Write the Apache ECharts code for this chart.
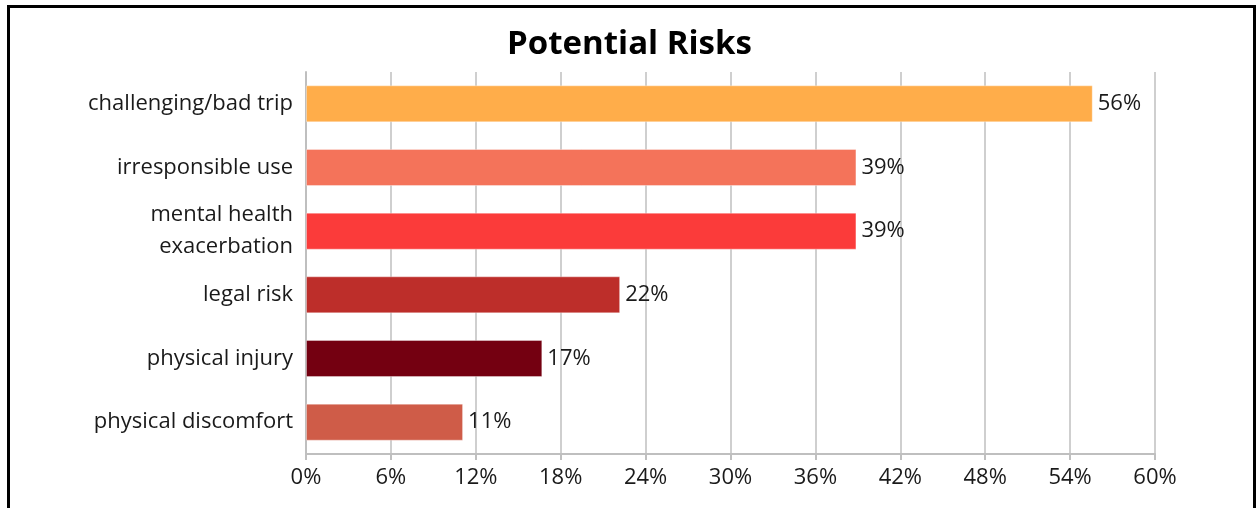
<!DOCTYPE html>
<html>
<head>
<meta charset="utf-8">
<script src="https://cdn.jsdelivr.net/npm/echarts@6/dist/echarts.min.js"></script>
<style>
html,body{margin:0;padding:0;background:#fff;}
#wrap{position:relative;width:1259px;height:508px;overflow:hidden;}
#chart{position:absolute;left:0;top:0;width:1259px;height:508px;}
#frame{position:absolute;left:7px;top:5px;width:1243px;height:530px;border:3px solid #000;pointer-events:none;}
</style>
</head>
<body>
<div id="wrap"><div id="chart"></div><div id="frame"></div></div>
<script>
const titleText = 'Potential Risks';
const categories = ['challenging/bad trip','irresponsible use','mental health\nexacerbation','legal risk','physical injury','physical discomfort'];
const values = [55.6, 38.9, 38.9, 22.2, 16.7, 11.1];
const colors = ['#FFAD4A','#F4735A','#FB3B3A','#BD2E2A','#740011','#CF5C48'];
const xTicks = [0, 6, 12, 18, 24, 30, 36, 42, 48, 54, 60];

const font = '"Open Sans","Noto Sans",sans-serif';
const chart = echarts.init(document.getElementById('chart'));
chart.setOption({
  animation: false,
  title: {
    text: titleText, left: 'center', top: 23,
    textStyle: {fontFamily: font, fontWeight: 'bold', fontSize: 33, color: '#000'}
  },
  grid: {left: 306, right: 104, top: 72, bottom: 54, containLabel: false},
  xAxis: {
    type: 'value', min: xTicks[0], max: xTicks[xTicks.length-1], interval: 6,
    axisLine: {show: true, lineStyle: {color: '#bfbfbf', width: 2}},
    axisTick: {show: true, length: 6, lineStyle: {color: '#bfbfbf', width: 2}},
    splitLine: {show: true, lineStyle: {color: '#cfcfcf', width: 2}},
    axisLabel: {formatter: '{value}%', fontFamily: font, fontSize: 22, color: '#1a1a1a', margin: 13}
  },
  yAxis: {
    type: 'category', data: categories, inverse: true,
    axisLine: {show: true, lineStyle: {color: '#bfbfbf', width: 2}},
    axisTick: {show: false},
    axisLabel: {fontFamily: font, fontSize: 22, color: '#1a1a1a', margin: 13, lineHeight: 32, align: 'right'}
  },
  series: [{
    type: 'bar',
    data: values.map((v, i) => ({value: v, itemStyle: {color: colors[i]}})),
    barWidth: 37,
    itemStyle: {borderColor: 'rgba(255,255,255,0.35)', borderWidth: 1},
    label: {
      show: true, position: 'right', distance: 5,
      formatter: p => Math.round(p.value) + '%',
      fontFamily: font, fontSize: 22, color: '#1a1a1a'
    }
  }]
});
</script>
</body>
</html>
